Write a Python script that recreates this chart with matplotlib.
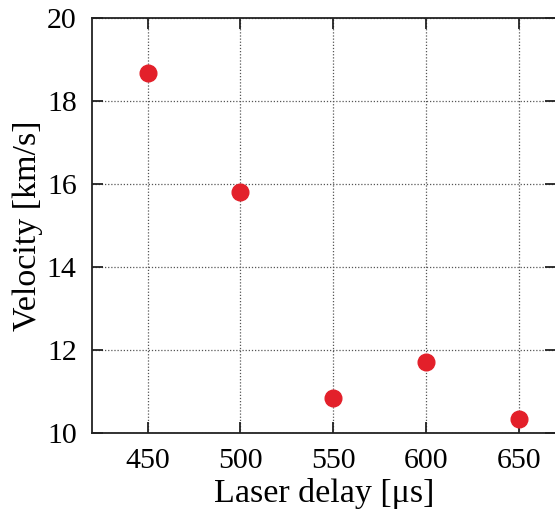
import matplotlib
matplotlib.use("Agg")
import matplotlib.pyplot as plt

# data
delay_us = [450, 500, 550, 600, 650]
velocity_kms = [18.67, 15.81, 10.84, 11.71, 10.34]

x_ticks = [450, 500, 550, 600, 650]
y_ticks = [10, 12, 14, 16, 18, 20]

RED = "#e3202a"
INK = "#222222"

plt.rcParams.update({
    "font.family": ["Liberation Serif", "DejaVu Serif"],
    "font.size": 21,
})

W, H = 555, 519
fig = plt.figure(figsize=(W / 100, H / 100), dpi=100)
# axes box in pixels: left 92, right ~556 (cut at image edge), top 18, bottom 433
ax = fig.add_axes([92 / W, (H - 433) / H, (556 - 92) / W, (433 - 18) / H])

ax.plot(delay_us, velocity_kms, "o", ms=12, color=RED, mec=RED, zorder=3,
        clip_on=False)

ax.set_xlim(420, 670)
ax.set_ylim(10, 20)
ax.set_xticks(x_ticks)
ax.set_yticks(y_ticks)

ax.grid(True, color="#555555", ls=(0, (1, 1.5)), lw=0.9)
ax.set_axisbelow(True)
for s in ax.spines.values():
    s.set_color(INK)
    s.set_linewidth(1.3)

ax.tick_params(direction="in", length=8, width=1.3, color=INK,
               top=True, right=True, labelsize=21.5, pad=11)

ax.set_xlabel("Laser delay [μs]", fontsize=24.5, labelpad=3)
ax.set_ylabel("Velocity [km/s]", fontsize=24.5, labelpad=3)

fig.savefig("out.png", dpi=100, facecolor="white")
